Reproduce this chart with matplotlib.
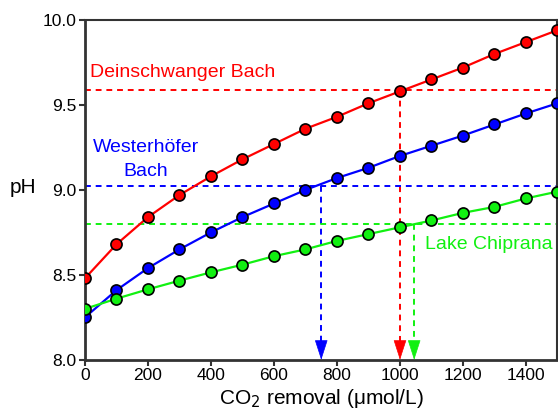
import matplotlib
matplotlib.use("Agg")
import matplotlib.pyplot as plt

plt.rcParams['font.family'] = ['Liberation Sans', 'DejaVu Sans']

co2 = [0, 100, 200, 300, 400, 500, 600, 700, 800, 900, 1000, 1100, 1200, 1300, 1400, 1500]
ph_deinschwanger = [8.48, 8.68, 8.84, 8.97, 9.08, 9.18, 9.27, 9.36, 9.43, 9.51, 9.58, 9.65, 9.72, 9.80, 9.87, 9.94]
ph_westerhoefer = [8.25, 8.41, 8.54, 8.65, 8.75, 8.84, 8.92, 9.00, 9.07, 9.13, 9.20, 9.26, 9.32, 9.385, 9.45, 9.51]
ph_chiprana = [8.30, 8.36, 8.415, 8.466, 8.515, 8.56, 8.61, 8.65, 8.70, 8.74, 8.78, 8.82, 8.865, 8.90, 8.95, 8.99]

# natural pH of each water body and the CO2 removal needed to reach it
natural_ph = {'red': 9.585, 'blue': 9.025, 'lime': 8.80}
removal_needed = {'red': 1000, 'blue': 750, 'lime': 1045}

series = [
    (ph_deinschwanger, '#ff0000', 'red'),
    (ph_westerhoefer, '#0000ff', 'blue'),
    (ph_chiprana, '#11f011', 'lime'),
]

fig = plt.figure(figsize=(5.58, 4.16), dpi=100)
ax = fig.add_axes([0.1523, 0.135, 0.8468, 0.817])

ax.set_xlim(0, 1500)
ax.set_ylim(8.0, 10.0)

dash = (0, (3, 2.5))
for ph, color, key in series:
    y0 = natural_ph[key]
    x0 = removal_needed[key]
    ax.plot([0, 1500], [y0, y0], ls=dash, color=color, lw=1.4, zorder=2)
    ax.plot([x0, x0], [y0, 8.08], ls=dash, color=color, lw=1.4, zorder=2)
    ax.annotate('', xy=(x0, 8.0), xytext=(0, 13), textcoords='offset points',
                arrowprops=dict(arrowstyle='-|>,head_length=1.3,head_width=0.42',
                                fc=color, ec=color, lw=0.5,
                                shrinkA=0, shrinkB=0),
                annotation_clip=False, zorder=3)

for ph, color, key in series:
    ax.plot(co2, ph, '-', color=color, lw=1.6, zorder=4)
    ax.plot(co2, ph, 'o', mfc=color, mec='black', mew=1.2, ms=8, zorder=5)

ax.set_xticks(range(0, 1401, 200))
ax.set_yticks([8.0, 8.5, 9.0, 9.5, 10.0])
ax.set_yticklabels(['8.0', '8.5', '9.0', '9.5', '10.0'])
ax.tick_params(direction='out', length=4, width=1.5, color='#333333',
               labelsize=12.5, pad=2)

for side in ['left', 'bottom']:
    ax.spines[side].set_linewidth(2.0)
    ax.spines[side].set_color('#333333')
for side in ['top', 'right']:
    ax.spines[side].set_linewidth(1.5)
    ax.spines[side].set_color('#333333')

ax.set_xlabel('CO$_2$ removal (\u03bcmol/L)', fontsize=15, labelpad=3)
fig.text(0.017, 0.55, 'pH', fontsize=15, ha='left', va='center')

ax.text(15, 9.69, 'Deinschwanger Bach', color='#ff0000', fontsize=14,
        ha='left', va='center')
ax.text(194, 9.25, 'Westerh\u00f6fer', color='#0000ff', fontsize=14,
        ha='center', va='center')
ax.text(194, 9.11, 'Bach', color='#0000ff', fontsize=14,
        ha='center', va='center')
ax.text(1483, 8.68, 'Lake Chiprana', color='#11f011', fontsize=14,
        ha='right', va='center')

fig.savefig('out.png', dpi=100)
